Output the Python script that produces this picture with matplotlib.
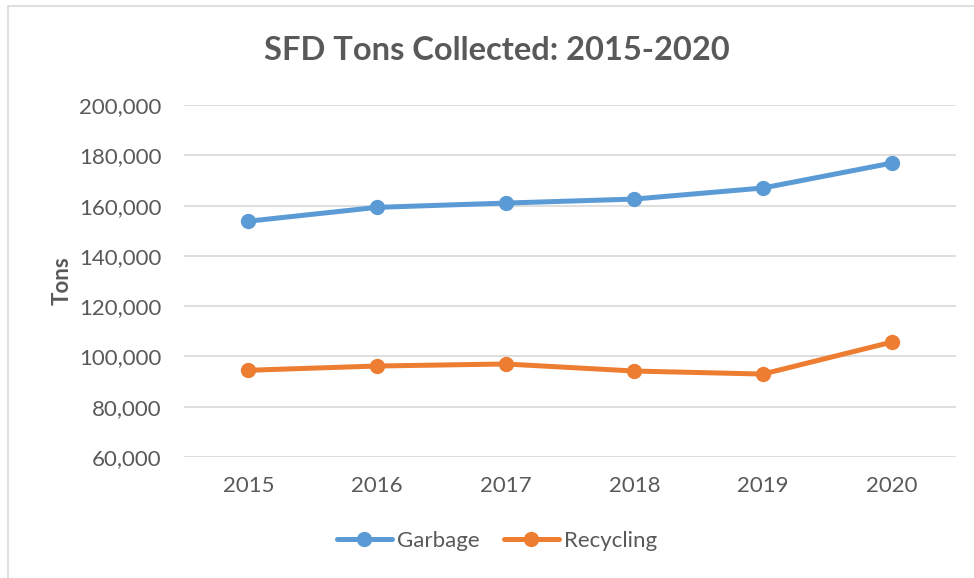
import matplotlib.pyplot as plt
from matplotlib.patches import Rectangle
from matplotlib.ticker import FuncFormatter

plt.rcParams['font.family'] = ['Lato', 'DejaVu Sans']

years = ['2015', '2016', '2017', '2018', '2019', '2020']
garbage = [153800, 159300, 161000, 162600, 167000, 176900]
recycling = [94500, 96200, 97000, 94200, 93000, 105700]

text_color = '#595959'
blue = '#5B9BD5'
orange = '#ED7D31'

fig = plt.figure(figsize=(9.74, 5.78), dpi=100)
ax = fig.add_axes([0.189, 0.2093, 0.7925, 0.609])

x = range(len(years))
ax.plot(x, garbage, color=blue, linewidth=3.6, marker='o', markersize=10,
        label='Garbage', solid_capstyle='round')
ax.plot(x, recycling, color=orange, linewidth=3.6, marker='o', markersize=10,
        label='Recycling', solid_capstyle='round')

ax.set_xlim(-0.5, 5.5)
ax.set_ylim(60000, 200000)
ax.set_yticks(range(60000, 200001, 20000))
ax.yaxis.set_major_formatter(FuncFormatter(lambda v, p: f'{int(v):,}'))
ax.set_xticks(list(x))
ax.set_xticklabels(years)

ax.grid(axis='y', color='#D9D9D9', linewidth=1.2)
ax.set_axisbelow(True)
for s in ax.spines.values():
    s.set_visible(False)
ax.tick_params(length=0, labelsize=16, labelcolor=text_color)
ax.tick_params(axis='y', pad=16)
ax.tick_params(axis='x', pad=14)

fig.text(0.064, 0.5137, 'Tons', rotation=90, ha='center', va='center',
         fontsize=16, fontweight='bold', color=text_color)
fig.text(0.51, 0.913, 'SFD Tons Collected: 2015-2020', ha='center', va='center',
         fontsize=23.5, fontweight='bold', color=text_color)

leg = fig.legend(loc='center', bbox_to_anchor=(0.51, 0.064), ncol=2, frameon=False,
                 fontsize=16, handlelength=2.5, columnspacing=1.1, handletextpad=0.2)
for t in leg.get_texts():
    t.set_color(text_color)

fig.patches.append(Rectangle((8 / 974, -0.1), 1.2, 1.1 - 6 / 578, transform=fig.transFigure,
                             fill=False, edgecolor='#D9D9D9', linewidth=1.2))

fig.savefig('out.png', dpi=100)
